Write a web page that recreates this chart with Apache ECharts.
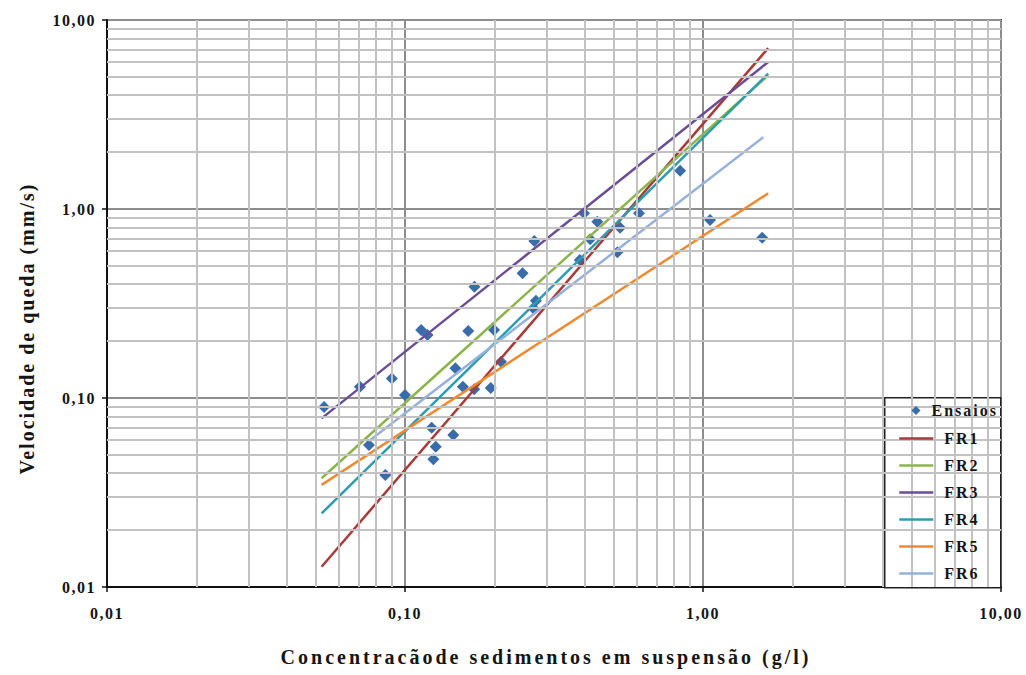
<!DOCTYPE html>
<html>
<head>
<meta charset="utf-8">
<script src="https://cdn.jsdelivr.net/npm/echarts@6/dist/echarts.min.js"></script>
<style>
  html, body { margin: 0; padding: 0; background: #ffffff; }
  #chart { width: 1026px; height: 675px; }
  #chart text { letter-spacing: 2px; }
</style>
</head>
<body>
<div id="chart"></div>
<script>
// Measured settling tests: suspended sediment concentration (g/l) vs fall velocity (mm/s)
const concentracao = [0.0535, 0.0706, 0.0757, 0.0859, 0.0903, 0.100, 0.1133, 0.119, 0.1229, 0.1245,
                      0.1268, 0.1452, 0.1476, 0.1564, 0.163, 0.1707, 0.171, 0.194, 0.199, 0.210,
                      0.248, 0.2695, 0.2716, 0.275, 0.386, 0.399, 0.418, 0.442, 0.516, 0.527,
                      0.610, 0.838, 1.056, 1.58];
const velocidade   = [0.0896, 0.1148, 0.0564, 0.0391, 0.127, 0.1037, 0.229, 0.2155, 0.0697, 0.0474,
                      0.0552, 0.0637, 0.1436, 0.1148, 0.226, 0.1111, 0.388, 0.1128, 0.229, 0.1556,
                      0.457, 0.298, 0.677, 0.327, 0.537, 0.949, 0.691, 0.857, 0.590, 0.796,
                      0.949, 1.595, 0.875, 0.705];

// Fitted power-law curves (straight on log-log), given by their end points
const fr1X = [0.0525, 1.655], fr1Y = [0.0128, 7.10];
const fr2X = [0.0525, 1.655], fr2Y = [0.0376, 5.10];
const fr3X = [0.0525, 1.655], fr3Y = [0.0780, 6.00];
const fr4X = [0.0525, 1.655], fr4Y = [0.0245, 5.20];
const fr5X = [0.0525, 1.655], fr5Y = [0.0347, 1.21];
const fr6X = [0.0757, 1.594], fr6Y = [0.0592, 2.40];

const frNames = ['FR1', 'FR2', 'FR3', 'FR4', 'FR5', 'FR6'];
const frXs = [fr1X, fr2X, fr3X, fr4X, fr5X, fr6X];
const frYs = [fr1Y, fr2Y, fr3Y, fr4Y, fr5Y, fr6Y];

// Axis ticks (both axes share the same decades)
const majorTicks = [0.01, 0.1, 1, 10];
const minorTicks = [0.02, 0.03, 0.04, 0.05, 0.06, 0.07, 0.08, 0.09,
                    0.2, 0.3, 0.4, 0.5, 0.6, 0.7, 0.8, 0.9,
                    2, 3, 4, 5, 6, 7, 8, 9];

const xTitle = 'Concentracãode sedimentos em suspensão (g/l)';
const yTitle = 'Velocidade de queda (mm/s)';

// Styling
const frColors = ['#A83B38', '#8DB44B', '#6A4D96', '#2F9BB2', '#EF8A31', '#95B1DC'];
const pointColor = '#3B6CAA';
const FONT = 'Liberation Serif';
const TXT = '#151515';

const fmt = v => Number(v).toFixed(2).replace('.', ',');

const chart = echarts.init(document.getElementById('chart'), null, { renderer: 'svg' });

const axisCommon = {
  type: 'log',
  logBase: 10,
  min: majorTicks[0],
  max: majorTicks[majorTicks.length - 1],
  axisLine: { show: true, onZero: false, lineStyle: { color: '#111', width: 2 } },
  axisTick: { show: true, inside: false, length: 5, lineStyle: { color: '#111', width: 1.5 } },
  splitLine: { show: true, lineStyle: { color: '#8d8d8d', width: 2 } },
  minorTick: { show: false },
  minorSplitLine: { show: false },
  axisLabel: {
    formatter: fmt,
    fontFamily: FONT, fontWeight: 'bold', fontSize: 16, color: TXT
  },
  nameLocation: 'middle',
  nameTextStyle: { fontFamily: FONT, fontWeight: 'bold', fontSize: 20, color: TXT }
};

const legendText = { fontFamily: FONT, fontWeight: 'bold', fontSize: 16, color: TXT, padding: [0, 0, 0, 6] };

const option = {
  animation: false,
  backgroundColor: '#ffffff',
  grid: {
    left: 107, right: 25, top: 20, bottom: 88,
    show: true, borderColor: '#333', borderWidth: 2, backgroundColor: 'transparent'
  },
  xAxis: Object.assign({}, axisCommon, {
    name: xTitle,
    nameGap: 60,
    nameTextStyle: Object.assign({}, axisCommon.nameTextStyle, { padding: [0, 16, 0, 0] }),
    axisLabel: Object.assign({}, axisCommon.axisLabel, { margin: 18 })
  }),
  yAxis: Object.assign({}, axisCommon, {
    name: yTitle,
    nameGap: 70,
    nameRotate: 90,
    nameTextStyle: Object.assign({}, axisCommon.nameTextStyle, { padding: [0, 50, 0, 0] }),
    axisLabel: Object.assign({}, axisCommon.axisLabel, { margin: 11 })
  }),
  legend: [
    {
      data: ['Ensaios'],
      orient: 'vertical', left: 911.5, top: 402.5, padding: 0,
      itemWidth: 9, itemHeight: 9, icon: 'diamond',
      selectedMode: false, z: 6,
      textStyle: legendText
    },
    {
      data: frNames,
      orient: 'vertical', left: 898, top: 430.5, padding: 0,
      itemWidth: 34, itemHeight: 14, itemGap: 11,
      selectedMode: false, z: 6,
      itemStyle: { opacity: 0 },
      lineStyle: { width: 2.5 },
      textStyle: legendText
    }
  ],
  graphic: [
    {
      type: 'rect', left: 884, top: 397, z: 5,
      shape: { width: 116, height: 190 },
      style: { fill: '#ffffff', stroke: '#222', lineWidth: 1.5 }
    }
  ],
  series: [
    {
      // minor log grid lines (2..9 within each decade)
      type: 'line', name: 'grade', data: [], z: 1, silent: true,
      markLine: {
        silent: true, animation: false, symbol: ['none', 'none'],
        label: { show: false },
        emphasis: { disabled: true },
        lineStyle: { color: '#c2c2c2', width: 2, type: 'solid' },
        data: minorTicks.map(v => ({ xAxis: v })).concat(minorTicks.map(v => ({ yAxis: v })))
      }
    },
    {
      type: 'scatter', name: 'Ensaios', z: 3,
      symbol: 'diamond', symbolSize: 12,
      itemStyle: { color: pointColor, opacity: 1 },
      data: concentracao.map((c, i) => [c, velocidade[i]])
    }
  ].concat(frNames.map((n, k) => ({
    type: 'line', name: n, z: 4,
    symbol: 'none', showSymbol: false,
    lineStyle: { color: frColors[k], width: 2.5 },
    itemStyle: { color: frColors[k] },
    data: frXs[k].map((x, i) => [x, frYs[k][i]])
  })))
};

chart.setOption(option);

// Letter spacing of the rendered SVG labels
function spaceText() {
  document.querySelectorAll('#chart text').forEach(t => {
    const s = t.textContent;
    let ls = 1.5;
    if (s === xTitle) ls = 3;
    else if (s === yTitle) ls = 2;
    else if (s === 'Ensaios' || /^FR\d$/.test(s)) ls = 2;
    t.style.letterSpacing = ls + 'px';
  });
}
chart.on('finished', spaceText);
spaceText();
setTimeout(spaceText, 50);
</script>
</body>
</html>
